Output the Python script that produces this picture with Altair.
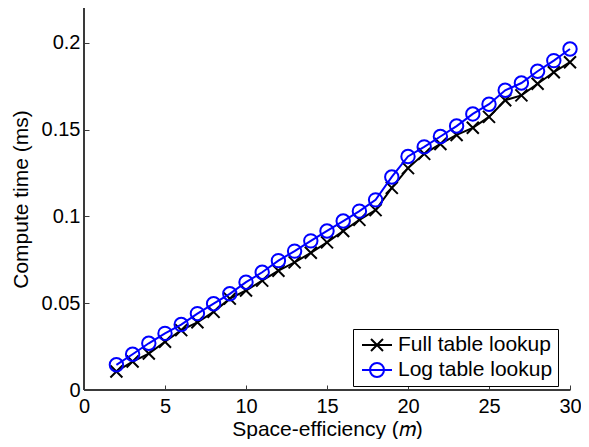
import altair as alt
import pandas as pd

m_values = list(range(2, 31))
full_table = [0.0107, 0.0164, 0.0210, 0.0278, 0.0345, 0.0390, 0.0450, 0.0526, 0.0573,
              0.0630, 0.0687, 0.0735, 0.0790, 0.0850, 0.0916, 0.0980, 0.1036, 0.1164,
              0.1278, 0.1360, 0.1417, 0.1469, 0.1510, 0.1573, 0.1669, 0.1697, 0.1764,
              0.1830, 0.1888]
log_table = [0.0145, 0.0206, 0.0269, 0.0326, 0.0377, 0.0440, 0.0497, 0.0554, 0.0621,
             0.0678, 0.0745, 0.0800, 0.0859, 0.0916, 0.0973, 0.1030, 0.1095, 0.1227,
             0.1345, 0.1400, 0.1460, 0.1520, 0.1590, 0.1646, 0.1726, 0.1768, 0.1836,
             0.1897, 0.1964]
series_names = ["Full table lookup", "Log table lookup"]
x_ticks = [0, 5, 10, 15, 20, 25, 30]
y_ticks = [0, 0.05, 0.1, 0.15, 0.2]

df = pd.DataFrame({
    "m": m_values + m_values,
    "time": full_table + log_table,
    "series": [series_names[0]] * len(m_values) + [series_names[1]] * len(m_values),
})
df_full = df[df.series == series_names[0]]
df_log = df[df.series == series_names[1]]

FONT = "Liberation Sans"
AXIS_COLOR = "#3a3a3a"
W, H = 486, 382

x_enc = alt.X("m:Q", scale=alt.Scale(domain=[0, 30], nice=False),
              axis=alt.Axis(values=x_ticks, title="Space-efficiency (𝑚)", offset=-5,
                            tickSize=5, domain=False, grid=False, labelPadding=6,
                            titleX=W / 2, titleY=50, titleBaseline="alphabetic",
                            labelFlush=False))
y_enc = alt.Y("time:Q", scale=alt.Scale(domain=[0, 0.22], nice=False),
              axis=alt.Axis(values=y_ticks, title="Compute time (ms)", offset=-5,
                            tickSize=5, domain=False, grid=False, labelPadding=4,
                            format=".2~f", titleX=-62, titleY=H / 2,
                            titleBaseline="alphabetic", labelFlush=False))

full_line = alt.Chart(df_full).mark_line(color="black", strokeWidth=2).encode(x=x_enc, y=y_enc)
full_pts = alt.Chart(df_full).mark_point(
    shape="M-1,-1L1,1M-1,1L1,-1", filled=False, color="black", strokeWidth=2, size=144, opacity=1
).encode(x="m:Q", y="time:Q")
log_line = alt.Chart(df_log).mark_line(color="#0000ff", strokeWidth=2).encode(x="m:Q", y="time:Q")
log_pts = alt.Chart(df_log).mark_point(
    shape="circle", filled=False, color="#0000ff", strokeWidth=2, size=180, opacity=1
).encode(x="m:Q", y="time:Q")

legend_layer = alt.Chart(df).mark_point(opacity=0, filled=False, strokeWidth=2).encode(
    x="m:Q", y="time:Q",
    color=alt.Color("series:N", scale=alt.Scale(domain=series_names, range=["black", "#0000ff"]),
                    legend=alt.Legend(title=None, orient="none", legendX=269, legendY=321,
                                      strokeColor="black", fillColor="white", padding=5,
                                      symbolOffset=8, labelOffset=10, rowPadding=4,
                                      symbolSize=400, symbolStrokeWidth=2, symbolOpacity=1,
                                      labelFont=FONT, labelFontSize=21, labelColor="black",
                                      cornerRadius=0)),
    shape=alt.Shape("series:N", scale=alt.Scale(
        domain=series_names,
        range=["M-1.5,0H1.5M-0.6,-0.6L0.6,0.6M-0.6,0.6L0.6,-0.6",
               "M-1.5,0H1.5M-0.7,0A0.7,0.7,0,1,1,0.7,0A0.7,0.7,0,1,1,-0.7,0"])),
)

x_domain = alt.Chart(df).mark_rule(color=AXIS_COLOR, strokeWidth=1).encode(
    x=alt.datum(0), x2=alt.datum(30), y=alt.datum(0))
y_domain = alt.Chart(df).mark_rule(color=AXIS_COLOR, strokeWidth=1).encode(
    x=alt.datum(0), y=alt.datum(0), y2=alt.datum(0.22))

chart = alt.layer(
    x_domain, y_domain, full_line, full_pts, log_line, log_pts, legend_layer
).properties(
    width=W, height=H,
    autosize=alt.AutoSizeParams(type="none"),
    padding={"left": 76, "top": 0, "right": 11, "bottom": 49},
).configure_view(stroke=None).configure_axis(
    labelFont=FONT, titleFont=FONT, labelFontSize=20, titleFontSize=21,
    labelColor="black", titleColor="black", tickColor=AXIS_COLOR, tickWidth=1,
    titleFontWeight="normal",
)

chart.save("out.html", embed_options={"renderer": "svg", "actions": False})
